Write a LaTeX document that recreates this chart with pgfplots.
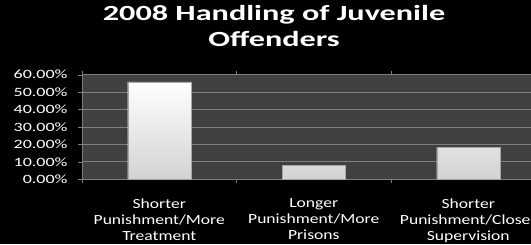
\documentclass[border=0pt]{standalone}
\usepackage{pgfplots}
\pgfplotsset{compat=1.18}
\usepackage{fontspec}
\setmainfont{Carlito}
\newfontfamily\titlefont{Carlito}[FakeStretch=1.49]
\newfontfamily\ytickfont{Carlito}[FakeStretch=1.42]
\newfontfamily\xtickfont{Carlito}[FakeStretch=1.26]
\definecolor{plotbg}{HTML}{404040}
\definecolor{gridc}{HTML}{7F7F7F}
\begin{document}
\begin{tikzpicture}[x=1bp,y=1bp]
\fill[black] (0,0) rectangle (531,244);
\node[anchor=base, text=white, align=center, font=\titlefont\bfseries\fontsize{21.7}{26}\selectfont] at (274,223.3) {2008 Handling of Juvenile};
\node[anchor=base, text=white, align=center, font=\titlefont\bfseries\fontsize{21.7}{26}\selectfont] at (274,197.3) {Offenders};
\begin{axis}[
  at={(82bp,64.7bp)}, anchor=south west,
  scale only axis, width=463.5bp, height=104.7bp,
  xmin=-0.5, xmax=2.5, ymin=0, ymax=60,
  axis background/.style={fill=plotbg},
  axis line style={gridc},
  ytick={0,10,...,60},
  ymajorgrids, grid style={gridc, line width=0.8pt},
  tick align=outside,
  major tick length=4bp,
  tick style={gridc},
  xtick={0,1,2},
  major x tick style={draw=none},
  minor xtick={-0.5,0.5,1.5,2.5},
  minor tick length=4bp,
  xticklabels={{Shorter\\Punishment/More\\Treatment},{Longer\\Punishment/More\\Prisons},{Shorter\\Punishment/Closer\\Supervision}},
  xticklabel style={align=center, text=white, yshift=-12bp, font=\xtickfont\fontsize{14}{16}\selectfont},
  /pgf/number format/assume math mode=true,
  yticklabel={\pgfmathprintnumber[fixed,fixed zerofill,precision=2]{\tick}\%},
  yticklabel style={text=white, xshift=-7bp, font=\ytickfont\fontsize{12.7}{14}\selectfont},
]
\addplot[ybar, bar width=0.408, draw=gray!70, top color=white, bottom color=gray!35] coordinates {(0,55.8) (1,7.8) (2,18.3)};
\end{axis}
\pgfresetboundingbox
\path (0,0) rectangle (531,244);
\end{tikzpicture}
\end{document}
